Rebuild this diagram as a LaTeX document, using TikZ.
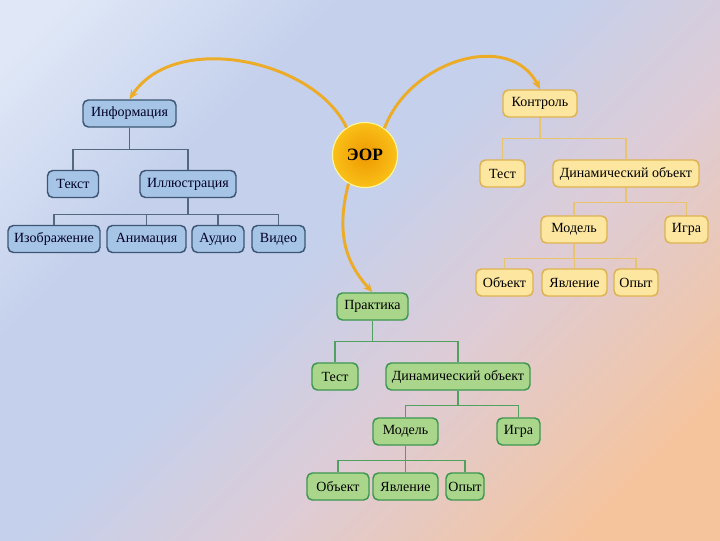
\documentclass[tikz,border=0pt]{standalone}
\usepackage{fontspec}
\setmainfont{Liberation Serif}
\usetikzlibrary{arrows.meta}
\definecolor{bgtl}{RGB}{224,232,247}
\definecolor{bgmid}{RGB}{196,208,236}
\definecolor{bgpk}{RGB}{222,204,214}
\definecolor{bgbr}{RGB}{246,196,156}
\definecolor{bfill}{RGB}{166,196,230}
\definecolor{bdraw}{RGB}{60,86,116}
\definecolor{bline}{RGB}{84,104,128}
\definecolor{yfill}{RGB}{252,230,160}
\definecolor{ydraw}{RGB}{222,178,80}
\definecolor{yline}{RGB}{232,196,110}
\definecolor{gfill}{RGB}{170,214,140}
\definecolor{gdraw}{RGB}{60,150,80}
\definecolor{gline}{RGB}{80,160,96}
\definecolor{arrcol}{RGB}{236,172,40}
\definecolor{ballin}{RGB}{238,152,0}
\definecolor{ballout}{RGB}{250,192,24}
\pgfdeclareverticalshading{bgsh}{100bp}{color(0bp)=(bgbr); color(22bp)=(bgbr); color(40bp)=(bgpk); color(54bp)=(bgmid); color(66bp)=(bgmid); color(82bp)=(bgtl); color(100bp)=(bgtl)}
\tikzset{
  bx/.style={rounded corners=4pt, inner sep=0pt, minimum height=27*0.75pt, font=\fontsize{10.5}{12}\selectfont, line width=1.1pt},
  bw/.style={minimum width=#1*0.75pt},
  bluebox/.style={bx, fill=bfill, draw=bdraw, text=black!85!blue},
  yelbox/.style={bx, fill=yfill, draw=ydraw},
  grnbox/.style={bx, fill=gfill, draw=gdraw},
  bl/.style={draw=bline, line width=1pt},
  yl/.style={draw=yline, line width=1pt},
  gl/.style={draw=gline, line width=1pt},
  arr/.style={draw=arrcol, line width=2.2pt, -{Stealth[length=7pt,width=6pt]}}
}
\begin{document}
\begin{tikzpicture}[x=0.75pt,y=-0.75pt]
\shade[shading=bgsh, shading angle=45] (0,0) rectangle (720,540);
\useasboundingbox (0,0) rectangle (720,540);

% ЭОР
\node[circle, minimum size=65*0.75pt, inner sep=0pt, inner color=ballin, outer color=ballout, draw=yellow!40!white, line width=0.8pt, font=\fontsize{13}{15}\selectfont\bfseries] (eor) at (365,155) {ЭОР};

% blue tree
\node[bluebox, bw=93] (info) at (129.5,113.5) {Информация};
\node[bluebox, bw=51] (text) at (73,184) {Текст};
\node[bluebox, bw=96] (ill) at (188,184) {Иллюстрация};
\node[bluebox, bw=92] (img) at (54,239) {Изображение};
\node[bluebox, bw=79] (anim) at (146.5,239) {Анимация};
\node[bluebox, bw=52] (aud) at (218,239) {Аудио};
\node[bluebox, bw=53] (vid) at (278.5,239) {Видео};
\draw[bl] (info.south) -- ++(0,22) -| (text.north);
\draw[bl] (info.south) -- ++(0,22) -| (ill.north);
\draw[bl] (ill.south) -- ++(0,16) -| (img.north);
\draw[bl] (ill.south) -- ++(0,16) -| (anim.north);
\draw[bl] (ill.south) -- ++(0,16) -| (aud.north);
\draw[bl] (ill.south) -- ++(0,16) -| (vid.north);

% yellow tree
\node[yelbox, bw=74] (ctrl) at (540,103.5) {Контроль};
\node[yelbox, bw=45] (ytest) at (502.5,173.5) {Тест};
\node[yelbox, bw=146] (ydyn) at (626,173.5) {Динамический объект};
\node[yelbox, bw=66] (ymod) at (574,229.5) {Модель};
\node[yelbox, bw=43] (ygame) at (686.5,229.5) {Игра};
\node[yelbox, bw=57] (yobj) at (504.5,282.5) {Объект};
\node[yelbox, bw=65] (yphen) at (574.5,282.5) {Явление};
\node[yelbox, bw=44] (yexp) at (636,282.5) {Опыт};
\draw[yl] (ctrl.south) -- ++(0,21) -| (ytest.north);
\draw[yl] (ctrl.south) -- ++(0,21) -| (ydyn.north);
\draw[yl] (ydyn.south) -- ++(0,15) -| (ymod.north);
\draw[yl] (ydyn.south) -- ++(0,15) -| (ygame.north);
\draw[yl] (ymod.south) -- ++(0,15) -| (yobj.north);
\draw[yl] (ymod.south) -- ++(0,15) -| (yphen.north);
\draw[yl] (ymod.south) -- ++(0,15) -| (yexp.north);

% green tree
\node[grnbox, bw=71] (prac) at (372.5,306.5) {Практика};
\node[grnbox, bw=46] (gtest) at (335,376.5) {Тест};
\node[grnbox, bw=144] (gdyn) at (458,376.5) {Динамический объект};
\node[grnbox, bw=65] (gmod) at (405.5,431.5) {Модель};
\node[grnbox, bw=43] (ggame) at (518.5,431.5) {Игра};
\node[grnbox, bw=62] (gobj) at (338,486.5) {Объект};
\node[grnbox, bw=65] (gphen) at (405.5,486.5) {Явление};
\node[grnbox, bw=38] (gexp) at (465,486.5) {Опыт};
\draw[gl] (prac.south) -- ++(0,21) -| (gtest.north);
\draw[gl] (prac.south) -- ++(0,21) -| (gdyn.north);
\draw[gl] (gdyn.south) -- ++(0,15) -| (gmod.north);
\draw[gl] (gdyn.south) -- ++(0,15) -| (ggame.north);
\draw[gl] (gmod.south) -- ++(0,15) -| (gobj.north);
\draw[gl] (gmod.south) -- ++(0,15) -| (gphen.north);
\draw[gl] (gmod.south) -- ++(0,15) -| (gexp.north);

% arrows
\draw[arr] (eor.124) .. controls (315,60) and (175,30) .. (info.north);
\draw[arr] (eor.54) .. controls (410,60) and (510,30) .. (ctrl.north);
\draw[arr] (eor.-120) .. controls (336,232) and (345,262) .. (prac.north);
\end{tikzpicture}
\end{document}
